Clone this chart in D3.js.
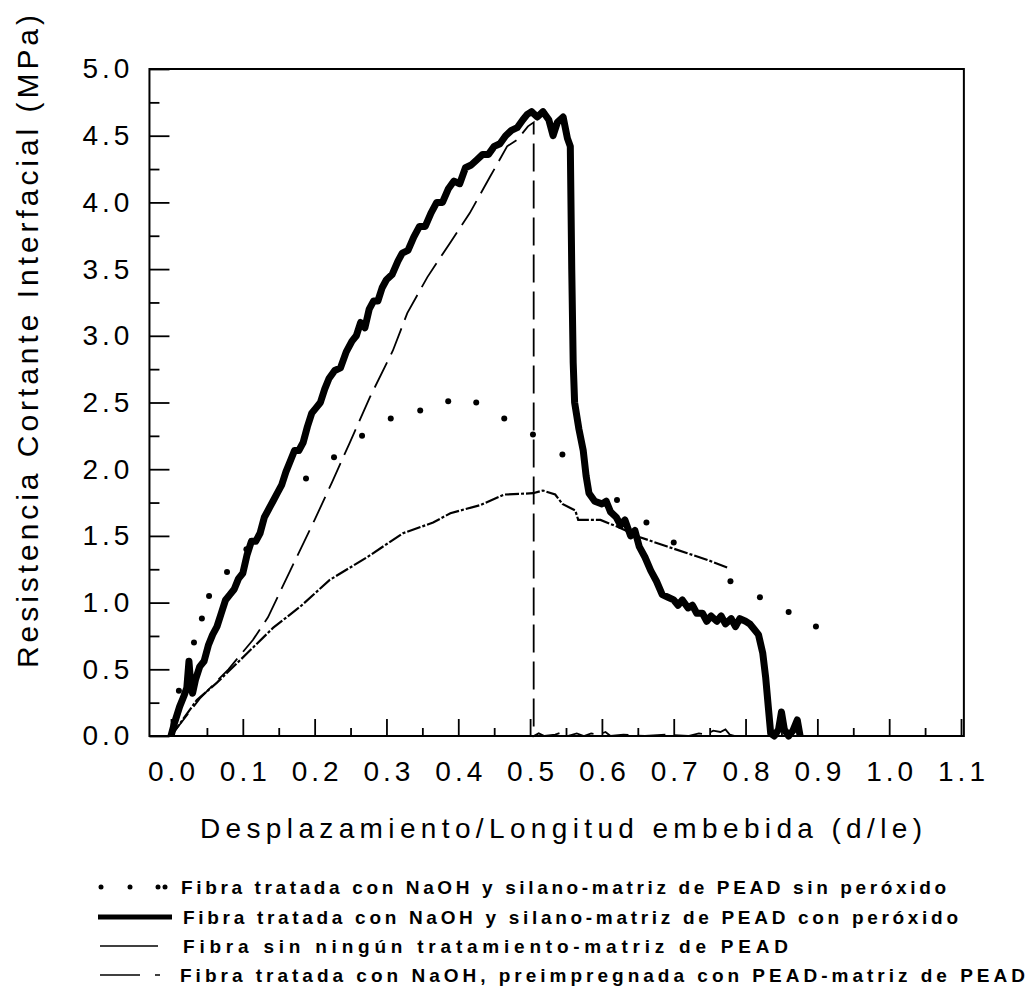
<!DOCTYPE html>
<html lang="es">
<head>
  <meta charset="UTF-8">
  <title>Resistencia cortante interfacial</title>
  <script src="https://d3js.org/d3.v7.min.js"></script>
  <style>
    body { margin: 0; background: #fff; }
    svg { display: block; font-family: "Liberation Sans", Arial, sans-serif; }
  </style>
</head>
<body>
  <svg id="chart" width="1030" height="995"></svg>

  <script>
    // valores (d/le, MPa)
    const xTicks = [0, 0.1, 0.2, 0.3, 0.4, 0.5, 0.6, 0.7, 0.8, 0.9, 1.0, 1.1];
    const yTicks = [0, 0.5, 1, 1.5, 2, 2.5, 3, 3.5, 4, 4.5, 5];

    // sin peroxido (puntos)
    const dotsX = [0.011, 0.032, 0.043, 0.053, 0.078, 0.105, 0.188, 0.227, 0.266, 0.306, 0.347, 0.386,
                   0.425, 0.464, 0.504, 0.545, 0.621, 0.662, 0.700, 0.779, 0.820, 0.860, 0.898];
    const dotsY = [0.34, 0.70, 0.88, 1.05, 1.23, 1.40, 1.93, 2.09, 2.25, 2.38, 2.44, 2.51,
                   2.50, 2.38, 2.26, 2.11, 1.77, 1.60, 1.45, 1.16, 1.04, 0.93, 0.82];

    // con peroxido (linea gruesa)
    const thickX = [0.000, 0.005, 0.012, 0.018, 0.022, 0.025, 0.027, 0.030, 0.034, 0.040, 0.046, 0.052,
                    0.058, 0.064, 0.070, 0.076, 0.082, 0.088, 0.094, 0.100, 0.106, 0.112, 0.118, 0.124,
                    0.130, 0.136, 0.142, 0.148, 0.154, 0.160, 0.166, 0.172, 0.178, 0.184, 0.190, 0.196,
                    0.202, 0.208, 0.214, 0.220, 0.228, 0.236, 0.244, 0.252, 0.258, 0.264, 0.270, 0.276,
                    0.282, 0.288, 0.294, 0.300, 0.308, 0.316, 0.322, 0.330, 0.338, 0.346, 0.354, 0.362,
                    0.370, 0.378, 0.386, 0.394, 0.402, 0.410, 0.418, 0.426, 0.434, 0.442, 0.450, 0.458,
                    0.466, 0.474, 0.482, 0.490, 0.496, 0.502, 0.510, 0.518, 0.526, 0.532, 0.538, 0.546,
                    0.552, 0.556, 0.558, 0.560, 0.562, 0.568, 0.574, 0.578, 0.582, 0.590, 0.600, 0.606,
                    0.612, 0.620, 0.626, 0.632, 0.640, 0.646, 0.652, 0.660, 0.668, 0.676, 0.684, 0.692,
                    0.700, 0.706, 0.712, 0.720, 0.726, 0.732, 0.740, 0.746, 0.752, 0.760, 0.766, 0.772,
                    0.780, 0.786, 0.792, 0.800, 0.806, 0.812, 0.818, 0.824, 0.828, 0.832, 0.835, 0.840,
                    0.846, 0.850, 0.854, 0.860, 0.866, 0.872, 0.876];
    const thickY = [0.00, 0.10, 0.22, 0.30, 0.36, 0.56, 0.42, 0.32, 0.42, 0.52, 0.56, 0.68,
                    0.76, 0.82, 0.92, 1.02, 1.06, 1.10, 1.18, 1.22, 1.36, 1.46, 1.46, 1.52,
                    1.64, 1.70, 1.76, 1.82, 1.88, 1.98, 2.06, 2.14, 2.14, 2.20, 2.32, 2.42,
                    2.46, 2.50, 2.60, 2.68, 2.74, 2.76, 2.88, 2.96, 3.00, 3.10, 3.06, 3.20,
                    3.26, 3.26, 3.36, 3.42, 3.46, 3.56, 3.62, 3.64, 3.74, 3.82, 3.82, 3.92,
                    4.00, 4.00, 4.10, 4.16, 4.14, 4.26, 4.28, 4.32, 4.36, 4.36, 4.42, 4.44,
                    4.50, 4.54, 4.56, 4.62, 4.66, 4.68, 4.64, 4.68, 4.62, 4.50, 4.60, 4.64,
                    4.48, 4.42, 3.50, 2.80, 2.50, 2.30, 2.14, 1.95, 1.82, 1.76, 1.74, 1.76,
                    1.68, 1.64, 1.58, 1.62, 1.50, 1.54, 1.42, 1.34, 1.24, 1.16, 1.06, 1.04,
                    1.02, 0.98, 1.02, 0.96, 0.98, 0.92, 0.92, 0.86, 0.90, 0.86, 0.90, 0.84,
                    0.88, 0.82, 0.88, 0.86, 0.84, 0.80, 0.76, 0.62, 0.44, 0.20, 0.02, 0.00,
                    0.05, 0.18, 0.05, 0.00, 0.04, 0.12, 0.00];

    // sin ningun tratamiento (linea fina)
    const thinX = [0.000, 0.036, 0.064, 0.106, 0.142, 0.180, 0.221, 0.273, 0.323, 0.365, 0.389, 0.430,
                   0.464, 0.504, 0.518, 0.535, 0.545, 0.563, 0.567, 0.598, 0.621, 0.653, 0.691, 0.719,
                   0.747, 0.776];
    const thinY = [0.00, 0.27, 0.40, 0.62, 0.81, 0.97, 1.17, 1.34, 1.52, 1.60, 1.67, 1.73,
                   1.81, 1.82, 1.84, 1.81, 1.74, 1.69, 1.62, 1.62, 1.57, 1.49, 1.42, 1.37,
                   1.32, 1.26];

    // preimpregnada (linea discontinua)
    const dashX = [0.000, 0.040, 0.080, 0.114, 0.135, 0.166, 0.200, 0.224, 0.249, 0.277, 0.309, 0.329,
                   0.357, 0.389, 0.416, 0.444, 0.468, 0.482, 0.497, 0.505, 0.505, 0.512, 0.520, 0.535,
                   0.545, 0.552, 0.565, 0.575, 0.585, 0.595, 0.605, 0.612, 0.630, 0.660, 0.690, 0.720,
                   0.735, 0.745, 0.755, 0.765, 0.772, 0.778, 0.785];
    const dashY = [0.00, 0.28, 0.50, 0.72, 0.89, 1.24, 1.62, 1.90, 2.20, 2.54, 2.89, 3.17,
                   3.44, 3.70, 3.92, 4.19, 4.42, 4.47, 4.57, 4.60, 0.00, 0.02, 0.00, 0.01,
                   0.03, 0.00, 0.02, 0.00, 0.02, 0.01, 0.03, 0.00, 0.01, 0.00, 0.01, 0.00,
                   0.02, 0.01, 0.04, 0.03, 0.05, 0.01, 0.00];

    const legendLabels = [
      "Fibra tratada con NaOH y silano-matriz de PEAD sin peróxido",
      "Fibra tratada con NaOH y silano-matriz de PEAD con peróxido",
      "Fibra sin ningún tratamiento-matriz de PEAD",
      "Fibra tratada con NaOH, preimpregnada con PEAD-matriz de PEAD"
    ];

    const svg = d3.select("#chart");

    const x = d3.scaleLinear().domain([0, 1.1]).range([171, 961]);
    const y = d3.scaleLinear().domain([0, 5]).range([736, 69]);
    const x0 = x(-0.03), x1 = x(1.104);

    // ejes con marcas hacia dentro
    const minorX = d3.range(0.05, 1.1, 0.1);
    svg.append("g")
      .attr("transform", `translate(0,${y(0)})`)
      .call(d3.axisBottom(x).tickValues(minorX).tickSizeInner(-8).tickSizeOuter(0).tickFormat(""))
      .call(g => g.select(".domain").remove());
    svg.append("g")
      .attr("transform", `translate(0,${y(0)})`)
      .call(d3.axisBottom(x).tickValues(xTicks).tickSizeInner(-17).tickSizeOuter(0)
        .tickPadding(25).tickFormat(d3.format(".1f")))
      .call(g => g.select(".domain").remove())
      .call(g => g.selectAll("text").attr("font-size", 28).attr("letter-spacing", 4)
        .attr("fill", "#000").attr("dx", 2));

    const minorY = d3.range(0.25, 5, 0.5);
    svg.append("g")
      .attr("transform", `translate(${x0},0)`)
      .call(d3.axisLeft(y).tickValues(minorY).tickSizeInner(-10).tickSizeOuter(0).tickFormat(""))
      .call(g => g.select(".domain").remove());
    svg.append("g")
      .attr("transform", `translate(${x0},0)`)
      .call(d3.axisLeft(y).tickValues(yTicks).tickSizeInner(-20).tickSizeOuter(0)
        .tickPadding(16).tickFormat(d3.format(".1f")))
      .call(g => g.select(".domain").remove())
      .call(g => g.selectAll("text").attr("font-size", 28).attr("letter-spacing", 4).attr("fill", "#000"));

    svg.selectAll(".tick line").attr("stroke", "#000").attr("stroke-width", 1.8);

    svg.append("rect")
      .attr("x", x0).attr("y", y(5))
      .attr("width", x1 - x0).attr("height", y(0) - y(5))
      .attr("fill", "none").attr("stroke", "#000").attr("stroke-width", 2);

    // series
    const line = d3.line().x(d => x(d[0])).y(d => y(d[1]));

    const thinPts = d3.zip(thinX, thinY);
    svg.append("path").attr("d", line(thinPts))
      .attr("fill", "none").attr("stroke", "#000").attr("stroke-width", 2.2)
      .attr("stroke-dasharray", "14,2,3,2");

    const dashPts = d3.zip(dashX, dashY);
    svg.append("path").attr("d", line(dashPts))
      .attr("fill", "none").attr("stroke", "#000").attr("stroke-width", 1.8)
      .attr("stroke-dasharray", "28,9");

    const thickPts = d3.zip(thickX, thickY);
    svg.append("path").attr("d", line(thickPts))
      .attr("fill", "none").attr("stroke", "#000").attr("stroke-width", 7)
      .attr("stroke-linejoin", "round");

    svg.append("g").selectAll("circle")
      .data(d3.zip(dotsX, dotsY))
      .join("circle")
      .attr("cx", d => x(d[0])).attr("cy", d => y(d[1]))
      .attr("r", 3).attr("fill", "#000");

    // titulos
    svg.append("text")
      .attr("x", 200).attr("y", 838)
      .attr("font-size", 28).attr("textLength", 722).attr("lengthAdjust", "spacing")
      .text("Desplazamiento/Longitud embebida (d/le)");

    svg.append("text")
      .attr("transform", "translate(38,668) rotate(-90)")
      .attr("font-size", 30).attr("textLength", 653).attr("lengthAdjust", "spacing")
      .text("Resistencia Cortante Interfacial (MPa)");

    // leyenda
    const rowY = [887, 917, 946, 975];
    const textX = [181, 183, 183, 180];
    const textW = [765, 775, 605, 845];
    const leg = svg.append("g").attr("font-size", 19).attr("font-weight", "bold");

    leg.selectAll("circle.ld")
      .data([101, 130, 158, 165])
      .join("circle")
      .attr("cx", d => d).attr("cy", rowY[0]).attr("r", 2.5).attr("fill", "#000");

    leg.append("line").attr("x1", 98).attr("x2", 172).attr("y1", rowY[1]).attr("y2", rowY[1])
      .attr("stroke", "#000").attr("stroke-width", 5);
    leg.append("line").attr("x1", 100).attr("x2", 158).attr("y1", rowY[2]).attr("y2", rowY[2])
      .attr("stroke", "#000").attr("stroke-width", 1.5);
    leg.append("line").attr("x1", 100).attr("x2", 140).attr("y1", rowY[3]).attr("y2", rowY[3])
      .attr("stroke", "#000").attr("stroke-width", 1.5);
    leg.append("line").attr("x1", 155).attr("x2", 160).attr("y1", rowY[3]).attr("y2", rowY[3])
      .attr("stroke", "#000").attr("stroke-width", 1.5);

    leg.selectAll("text")
      .data(legendLabels)
      .join("text")
      .attr("x", (d, i) => textX[i])
      .attr("y", (d, i) => rowY[i] + 7)
      .attr("textLength", (d, i) => textW[i])
      .attr("lengthAdjust", "spacing")
      .text(d => d);
  </script>
</body>
</html>
